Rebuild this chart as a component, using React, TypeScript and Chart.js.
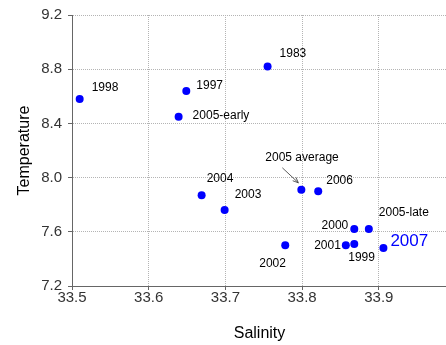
import React, { useEffect, useRef } from 'react';
import { Chart, registerables } from 'chart.js';

Chart.register(...registerables);

// ---- data ----
const years = ['1998', '1997', '2005-early', '1983', '2004', '2003', '2005 average', '2006', '2002', '2000', '2005-late', '2001', '1999', '2007'];
const salinity = [33.51, 33.649, 33.639, 33.755, 33.669, 33.699, 33.799, 33.821, 33.778, 33.868, 33.887, 33.857, 33.868, 33.906];
const temperature = [8.58, 8.64, 8.45, 8.82, 7.87, 7.76, 7.91, 7.90, 7.50, 7.62, 7.62, 7.50, 7.51, 7.48];
const xTickValues = [33.5, 33.6, 33.7, 33.8, 33.9];
const yTickValues = [7.2, 7.6, 8.0, 8.4, 8.8, 9.2];
const xTitle = 'Salinity';
const yTitle = 'Temperature';
const highlightYear = '2007';
const arrowYear = '2005 average';

// ---- label layout (pixel offsets from each point) ----
const labelDx = [12, 10, 14, 12, 5, 10, -36, 8, -26, -6, 10, -5, -6, 7];
const labelDy = [-11, -5, -1, -13, -17, -15, -32, -10, 18, -3, -16, 0, 14, -7];
const labelAlign: CanvasTextAlign[] = ['left', 'left', 'left', 'left', 'left', 'left', 'left', 'left', 'left', 'right', 'left', 'right', 'left', 'left'];

const FONT = '"Liberation Sans", Arial, sans-serif';

const labelPlugin = {
  id: 'pointLabels',
  afterDatasetsDraw(chart: any) {
    const ctx = chart.ctx as CanvasRenderingContext2D;
    const meta = chart.getDatasetMeta(0);
    ctx.save();
    ctx.textBaseline = 'middle';
    meta.data.forEach((pt: any, i: number) => {
      const isHi = years[i] === highlightYear;
      ctx.font = isHi ? `17px ${FONT}` : `12px ${FONT}`;
      ctx.fillStyle = isHi ? '#0000ff' : '#000000';
      ctx.textAlign = labelAlign[i];
      ctx.fillText(years[i], pt.x + labelDx[i], pt.y + labelDy[i]);
      if (years[i] === arrowYear) {
        const x1 = pt.x - 19, y1 = pt.y - 22;
        const x2 = pt.x - 3, y2 = pt.y - 7;
        ctx.strokeStyle = '#333';
        ctx.lineWidth = 0.8;
        ctx.beginPath();
        ctx.moveTo(x1, y1);
        ctx.lineTo(x2, y2);
        const ang = Math.atan2(y2 - y1, x2 - x1);
        const L = 6;
        ctx.moveTo(x2, y2);
        ctx.lineTo(x2 - L * Math.cos(ang - 0.4), y2 - L * Math.sin(ang - 0.4));
        ctx.moveTo(x2, y2);
        ctx.lineTo(x2 - L * Math.cos(ang + 0.4), y2 - L * Math.sin(ang + 0.4));
        ctx.stroke();
      }
    });
    ctx.restore();
  },
};

const CANVAS_W = 451;
const CANVAS_H = 345;

export default function App() {
  const ref = useRef<HTMLCanvasElement | null>(null);
  useEffect(() => {
    if (!ref.current) return;
    const chart = new Chart(ref.current, {
      type: 'scatter',
      data: {
        datasets: [
          {
            data: salinity.map((s, i) => ({ x: s, y: temperature[i] })),
            backgroundColor: '#0000ff',
            borderColor: '#0000ff',
            pointRadius: 4,
            borderWidth: 0,
          },
        ],
      },
      options: {
        animation: false,
        responsive: false,
        devicePixelRatio: 1,
        layout: { padding: { top: 15, right: 0, left: 0, bottom: 0 } },
        plugins: { legend: { display: false }, tooltip: { enabled: false } },
        scales: {
          x: {
            type: 'linear',
            position: 'bottom',
            min: 33.5,
            max: 33.9889,
            afterBuildTicks: (s: any) => { s.ticks = xTickValues.map((v) => ({ value: v })); },
            afterFit: (s: any) => { s.height = 59; s.paddingRight = 0; s.paddingLeft = 0; },
            ticks: {
              callback: (v: any) => Number(v).toFixed(1),
              font: { family: FONT, size: 15 },
              color: '#333',
              padding: -1,
              maxRotation: 0,
            },
            grid: { color: '#b4b4b4', lineWidth: 1, tickLength: 4, tickColor: '#666', drawTicks: true },
            border: { display: true, color: '#666', width: 1, dash: [1, 1] },
            title: { display: true, text: xTitle, font: { family: FONT, size: 16 }, color: '#000', padding: { top: 0, bottom: 2 } },
          },
          y: {
            type: 'linear',
            position: 'left',
            min: 7.2,
            max: 9.2,
            afterBuildTicks: (s: any) => { s.ticks = yTickValues.map((v) => ({ value: v })); },
            afterFit: (s: any) => { s.width = 72; },
            ticks: {
              callback: (v: any) => Number(v).toFixed(1),
              font: { family: FONT, size: 15 },
              color: '#333',
              padding: 6,
            },
            grid: { color: '#b4b4b4', lineWidth: 1, tickLength: 4, tickColor: '#666', drawTicks: true },
            border: { display: true, color: '#666', width: 1, dash: [1, 1] },
            title: { display: true, text: yTitle, font: { family: FONT, size: 16 }, color: '#000', padding: { top: 15, bottom: 0 } },
          },
        },
      },
      plugins: [labelPlugin],
    } as any);
    return () => chart.destroy();
  }, []);
  return (
    <div style={{ position: 'fixed', left: 0, top: 0, width: 446, height: 345, overflow: 'hidden', background: '#fff' }}>
      <canvas ref={ref} width={CANVAS_W} height={CANVAS_H} style={{ display: 'block', width: CANVAS_W, height: CANVAS_H }} />
    </div>
  );
}
